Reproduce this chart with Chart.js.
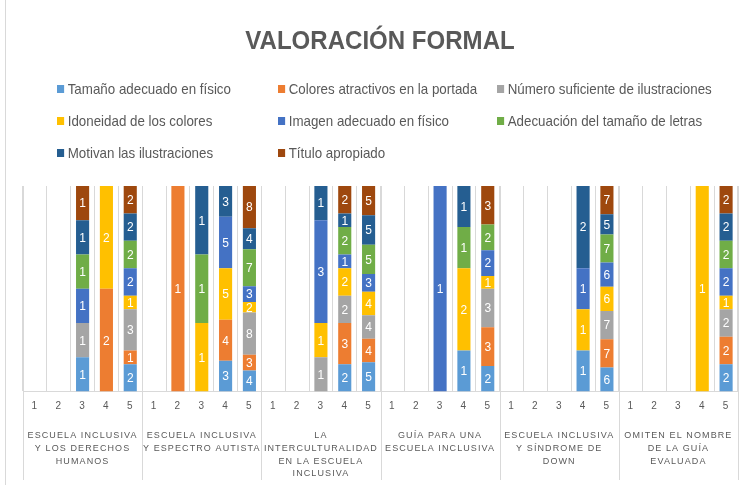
<!DOCTYPE html>
<html>
<head>
<meta charset="utf-8">
<script src="https://cdn.jsdelivr.net/npm/chart.js@4.4.0/dist/chart.umd.min.js"></script>
<style>
  body { margin: 0; background: #fff; }
  #wrap { position: relative; width: 748px; height: 485px; overflow: hidden; }
  #edge { position: absolute; left: 5px; top: 0; width: 1px; height: 485px; background: #d9d9d9; }
  #title { position: absolute; left: 12px; width: 736px; top: 25px; text-align: center;
    font: bold 26px "Liberation Sans", sans-serif; color: #595959; transform: scaleX(0.925); }
  .leg { position: absolute; font: 15px "Liberation Sans", sans-serif; color: #595959;
    white-space: nowrap; line-height: 18px; transform: scaleX(0.89); transform-origin: 0 50%; }
  .leg span { display: inline-block; width: 8px; height: 8px; margin-right: 4px; vertical-align: 1px; }
  canvas { position: absolute; left: 0; top: 0; }
</style>
</head>
<body>
<div id="wrap">
  <canvas id="graph" width="748" height="485"></canvas>
  <div id="edge"></div>
  <div id="title">VALORACIÓN FORMAL</div>
  <div id="legend"></div>
</div>
<script>
// categorias (grupos) y calificaciones 1..5
const groups = [
    ['ESCUELA INCLUSIVA', 'Y LOS DERECHOS', 'HUMANOS'],
    ['ESCUELA INCLUSIVA', 'Y ESPECTRO AUTISTA'],
    ['LA', 'INTERCULTURALIDAD', 'EN LA ESCUELA', 'INCLUSIVA'],
    ['GUÍA PARA UNA', 'ESCUELA INCLUSIVA'],
    ['ESCUELA INCLUSIVA', 'Y SÍNDROME DE', 'DOWN'],
    ['OMITEN EL NOMBRE', 'DE LA GUÍA', 'EVALUADA']
];
const ratings = ['1', '2', '3', '4', '5'];

const seriesNames = [
    'Tamaño adecuado en físico',
    'Colores atractivos en la portada',
    'Número suficiente de ilustraciones',
    'Idoneidad de los colores',
    'Imagen adecuado en físico',
    'Adecuación del tamaño de letras',
    'Motivan las ilustraciones',
    'Título apropiado'
];
const seriesColors = ['#5B9BD5', '#ED7D31', '#A5A5A5', '#FFC000', '#4472C4', '#70AD47', '#255E91', '#9E480E'];

// conteos por barra (grupo x calificacion), 6 grupos x 5
const tamano    = [0,0,1,0,2, 0,0,0,3,4, 0,0,0,2,5, 0,0,0,1,2, 0,0,0,1,6, 0,0,0,0,2];
const colores   = [0,0,0,2,1, 0,1,0,4,3, 0,0,0,3,4, 0,0,0,0,3, 0,0,0,0,7, 0,0,0,0,2];
const numero    = [0,0,1,0,3, 0,0,0,0,8, 0,0,1,2,4, 0,0,0,0,3, 0,0,0,0,7, 0,0,0,0,2];
const idoneidad = [0,0,0,2,1, 0,0,1,5,2, 0,0,1,2,4, 0,0,0,2,1, 0,0,0,1,6, 0,0,0,1,1];
const imagen    = [0,0,1,0,2, 0,0,0,5,3, 0,0,3,1,3, 0,0,1,0,2, 0,0,0,1,6, 0,0,0,0,2];
const adecuacion= [0,0,1,0,2, 0,0,1,0,7, 0,0,0,2,5, 0,0,0,1,2, 0,0,0,0,7, 0,0,0,0,2];
const motivan   = [0,0,1,0,2, 0,0,1,3,4, 0,0,1,1,5, 0,0,0,1,0, 0,0,0,2,5, 0,0,0,0,2];
const titulo    = [0,0,1,0,2, 0,0,0,0,8, 0,0,0,2,5, 0,0,0,0,3, 0,0,0,0,7, 0,0,0,0,2];

const counts = [tamano, colores, numero, idoneidad, imagen, adecuacion, motivan, titulo];

const FONT = '"Liberation Sans", sans-serif';

// leyenda en 3 columnas
const legendCols = [57, 278, 497];
const legendRows = [80, 112, 144];
let legendHtml = '';
for (let i = 0; i < seriesNames.length; i++) {
    legendHtml += '<div class="leg" style="left:' + legendCols[i % 3] + 'px;top:' + legendRows[Math.floor(i / 3)] + 'px">'
        + '<span style="background:' + seriesColors[i] + '"></span>' + seriesNames[i] + '</div>';
}
document.getElementById('legend').innerHTML = legendHtml;

// etiquetas del eje x
let labels = [];
for (let g = 0; g < groups.length; g++) {
    for (let r = 0; r < ratings.length; r++) labels.push(ratings[r]);
}

// totales -> 100% apilado
let totals = [];
for (let i = 0; i < labels.length; i++) {
    let s = 0;
    for (let d = 0; d < counts.length; d++) s += counts[d][i];
    totals.push(s);
}

const datasets = counts.map(function (arr, d) {
    return {
        label: seriesNames[d],
        data: arr.map(function (v, i) { return totals[i] ? v / totals[i] * 100 : 0; }),
        backgroundColor: seriesColors[d],
        borderWidth: 0,
        barPercentage: 0.55,
        categoryPercentage: 1
    };
});

const spacing = {
    id: 'spacing',
    beforeDraw: function (chart) { chart.ctx.letterSpacing = '1.1px'; },
    beforeDatasetsDraw: function (chart) { chart.ctx.letterSpacing = '0px'; }
};

const separators = {
    id: 'separators',
    afterDraw: function (chart) {
        const x = chart.scales.x;
        const half = (x.getPixelForValue(1) - x.getPixelForValue(0)) / 2;
        const ctx = chart.ctx;
        ctx.save();
        ctx.strokeStyle = '#d9d9d9';
        ctx.lineWidth = 1;
        for (let g = 0; g <= groups.length; g++) {
            let px = g < groups.length ? x.getPixelForValue(g * 5) - half : x.getPixelForValue(labels.length - 1) + half;
            px = Math.round(px) + 0.5;
            ctx.beginPath();
            ctx.moveTo(px, chart.chartArea.top);
            ctx.lineTo(px, 480);
            ctx.stroke();
        }
        ctx.restore();
    }
};

const valueLabels = {
    id: 'valueLabels',
    afterDatasetsDraw: function (chart) {
        const ctx = chart.ctx;
        ctx.save();
        ctx.fillStyle = '#ffffff';
        ctx.font = '12px ' + FONT;
        ctx.textAlign = 'center';
        ctx.textBaseline = 'middle';
        for (let d = 0; d < counts.length; d++) {
            const meta = chart.getDatasetMeta(d);
            meta.data.forEach(function (bar, i) {
                const v = counts[d][i];
                if (!v) return;
                ctx.fillText(String(v), bar.x, (bar.y + bar.base) / 2 + 1);
            });
        }
        ctx.restore();
    }
};

let ctx = document.getElementById('graph').getContext('2d');
let graph = new Chart(ctx, {
    type: 'bar',
    data: { labels: labels, datasets: datasets },
    options: {
        responsive: false,
        animation: false,
        layout: { padding: { top: 186, left: 23, right: 10, bottom: 5 } },
        plugins: {
            legend: { display: false },
            title: { display: false },
            tooltip: { enabled: false }
        },
        scales: {
            x: {
                stacked: true,
                offset: true,
                grid: { offset: true, color: '#d9d9d9', drawTicks: false },
                border: { color: '#d9d9d9' },
                ticks: { color: '#595959', font: { size: 10, family: FONT }, padding: 9, maxRotation: 0, autoSkip: false }
            },
            x2: {
                type: 'category',
                labels: groups,
                position: 'bottom',
                offset: true,
                grid: { display: false },
                border: { display: false },
                ticks: { color: '#595959', font: { size: 9, family: FONT, lineHeight: 1.4 }, padding: 0, maxRotation: 0, autoSkip: false }
            },
            y: { stacked: true, min: 0, max: 100, display: false }
        }
    },
    plugins: [spacing, separators, valueLabels]
});
</script>
</body>
</html>
